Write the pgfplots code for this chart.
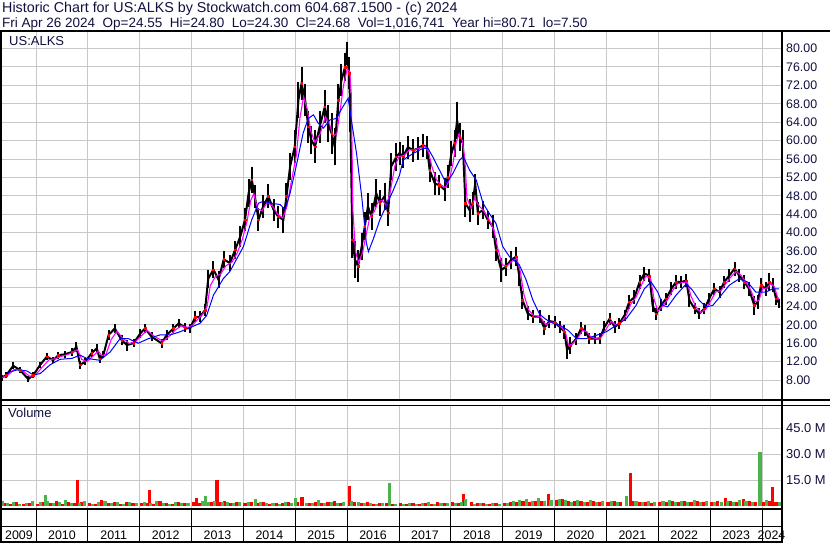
\documentclass[border=0pt]{standalone}
\usepackage{fontspec}
\setmainfont{Liberation Sans}
\usepackage{pgfplots}
\pgfplotsset{compat=1.18}
\usepackage{pgfplotstable}

\definecolor{txt}{RGB}{16,16,64}
\definecolor{gridc}{RGB}{200,200,200}
\definecolor{vred}{RGB}{255,0,0}
\definecolor{vgreen}{RGB}{76,178,76}
\definecolor{mag}{RGB}{255,0,255}
\definecolor{mablue}{RGB}{0,0,255}
\newcommand{\fs}{\fontsize{12.4}{14}\selectfont}
\newcommand{\fv}{\fontsize{12.9}{14}\selectfont}
\newcommand{\fh}{\fontsize{14.3}{16}\selectfont}
\newcommand{\fhh}{\fontsize{13.5}{16}\selectfont}
\newcommand{\fp}{\fontsize{13}{15}\selectfont}

\pgfplotstableread{
x c r
2009.34 8.5 0.6
2009.43 9.1 0.7
2009.56 11.1 0.8
2009.69 10.2 0.7
2009.85 8.2 0.6
2009.95 9.1 0.6
2010.08 11.3 0.7
2010.21 13.1 0.8
2010.33 12.3 0.7
2010.43 13.4 0.8
2010.56 13.6 0.8
2010.69 14.1 0.9
2010.78 15.2 1.0
2010.85 11.3 0.9
2010.95 12.0 0.8
2011.07 13.8 0.9
2011.17 14.9 1.0
2011.23 12.6 0.8
2011.30 13.5 0.8
2011.40 17.8 1.1
2011.52 19.2 1.0
2011.65 16.7 1.0
2011.75 15.6 1.2
2011.88 16.0 0.9
2012.01 18.1 1.0
2012.10 19.2 1.0
2012.23 17.4 1.0
2012.42 16.0 1.0
2012.52 17.8 1.0
2012.65 19.2 1.0
2012.75 20.3 1.0
2012.88 19.4 0.9
2012.97 19.2 0.9
2013.07 21.7 1.2
2013.16 21.7 1.2
2013.26 23.2 1.3
2013.32 30.0 2.0
2013.42 32.0 1.8
2013.52 29.8 1.8
2013.62 34.2 1.8
2013.74 33.4 1.8
2013.84 36.3 2.0
2013.94 39.2 2.2
2014.03 42.8 2.5
2014.10 48.6 3.0
2014.16 51.5 2.8
2014.22 47.9 2.5
2014.29 42.8 2.5
2014.38 45.7 2.5
2014.48 47.9 2.6
2014.58 45.0 2.4
2014.67 43.5 2.4
2014.77 42.8 2.8
2014.83 47.9 2.8
2014.90 54.4 3.0
2014.99 58.7 3.5
2015.06 68.8 4.0
2015.12 72.4 3.5
2015.19 68.8 3.5
2015.25 63.0 3.5
2015.31 60.1 3.0
2015.38 58.7 3.5
2015.47 63.0 3.5
2015.57 67.4 3.5
2015.63 63.8 4.0
2015.70 61.6 4.5
2015.76 58.7 4.0
2015.83 68.8 3.5
2015.89 73.1 3.5
2015.96 76.0 3.0
2015.99 78.9 2.5
2016.04 74.6 3.5
2016.06 65.9 4.0
2016.10 38.5 4.0
2016.15 34.2 4.0
2016.21 32.7 3.5
2016.28 37.0 3.0
2016.34 41.4 3.0
2016.40 45.7 3.0
2016.47 43.5 3.0
2016.56 48.6 3.0
2016.63 46.4 2.8
2016.72 47.9 3.0
2016.79 44.3 2.8
2016.85 54.4 3.0
2016.95 56.5 3.0
2017.01 57.3 2.5
2017.08 56.5 2.5
2017.17 58.6 2.5
2017.27 57.9 2.5
2017.37 58.3 2.5
2017.46 59.0 2.5
2017.54 58.6 2.5
2017.59 53.6 2.5
2017.69 50.7 2.5
2017.78 50.3 2.2
2017.88 49.3 2.5
2017.94 52.1 2.5
2018.01 57.2 2.8
2018.07 59.4 3.0
2018.12 64.4 4.0
2018.17 60.8 3.0
2018.23 59.4 3.0
2018.28 46.4 3.0
2018.36 44.9 2.5
2018.42 46.4 2.5
2018.47 50.7 2.0
2018.52 44.2 2.5
2018.62 44.9 2.0
2018.71 42.8 2.0
2018.81 41.3 2.5
2018.87 36.3 2.5
2018.97 31.9 2.5
2019.06 32.6 2.0
2019.16 34.1 2.0
2019.26 34.8 2.0
2019.32 30.5 2.0
2019.38 25.4 2.0
2019.48 22.5 1.5
2019.58 21.8 1.5
2019.71 21.8 1.5
2019.80 19.3 1.5
2019.90 20.8 1.4
2020.00 20.6 1.3
2020.10 19.5 1.3
2020.19 18.5 1.5
2020.24 14.5 2.0
2020.30 15.5 1.8
2020.42 17.0 1.3
2020.51 19.2 1.3
2020.58 18.8 1.2
2020.67 17.0 1.2
2020.77 17.0 1.2
2020.87 17.0 1.2
2020.96 19.5 1.3
2021.06 21.3 1.3
2021.16 19.5 1.3
2021.25 20.3 1.2
2021.35 22.1 1.2
2021.44 25.0 1.5
2021.54 26.0 1.5
2021.64 29.3 1.5
2021.73 31.1 1.5
2021.83 30.7 1.5
2021.89 24.2 1.5
2021.96 22.4 1.3
2022.05 24.2 1.3
2022.15 25.7 1.3
2022.25 27.8 1.4
2022.34 29.3 1.5
2022.44 29.3 1.4
2022.54 29.6 1.4
2022.60 25.3 1.4
2022.70 23.5 1.2
2022.79 22.4 1.2
2022.89 23.5 1.2
2022.98 25.7 1.3
2023.08 27.8 1.3
2023.18 27.1 1.3
2023.27 29.3 1.4
2023.37 30.7 1.4
2023.47 32.2 1.5
2023.56 30.7 1.5
2023.66 29.3 1.5
2023.75 27.8 1.5
2023.85 24.2 2.0
2023.92 25.0 1.5
2023.98 28.6 1.5
2024.08 27.8 1.5
2024.14 29.3 2.0
2024.21 28.6 1.5
2024.27 25.7 1.3
2024.33 24.7 1.0
}\price

\pgfplotstableread{
x m
2009.34 8.5
2009.45 9.0
2009.58 10.3
2009.72 10.2
2009.88 8.8
2010.00 9.2
2010.12 10.8
2010.25 12.4
2010.36 12.6
2010.48 13.1
2010.60 13.5
2010.72 14.0
2010.80 14.6
2010.88 12.5
2010.98 12.0
2011.10 13.2
2011.20 14.3
2011.27 13.3
2011.35 13.6
2011.45 16.8
2011.56 18.6
2011.68 17.0
2011.80 15.9
2011.92 16.4
2012.05 17.8
2012.14 18.8
2012.27 17.6
2012.45 16.4
2012.56 17.4
2012.68 18.8
2012.80 19.8
2012.92 19.4
2013.02 19.9
2013.12 21.2
2013.22 22.4
2013.30 24.0
2013.36 28.5
2013.46 30.5
2013.56 31.0
2013.66 32.8
2013.78 33.6
2013.88 35.6
2013.98 38.6
2014.07 42.5
2014.14 47.0
2014.20 48.5
2014.27 45.2
2014.36 44.8
2014.46 46.6
2014.56 45.8
2014.66 44.0
2014.76 43.2
2014.84 45.8
2014.93 51.5
2015.02 56.8
2015.09 65.0
2015.16 69.5
2015.23 66.8
2015.30 62.0
2015.38 59.6
2015.48 61.5
2015.58 65.2
2015.66 63.6
2015.73 61.0
2015.80 61.5
2015.87 67.0
2015.93 72.0
2016.00 75.5
2016.05 75.0
2016.08 70.0
2016.11 45.0
2016.16 36.0
2016.22 33.5
2016.30 35.8
2016.37 39.8
2016.44 43.5
2016.52 44.5
2016.60 46.8
2016.68 47.0
2016.76 45.8
2016.84 49.5
2016.92 54.5
2017.00 56.5
2017.10 56.8
2017.20 58.0
2017.30 58.0
2017.40 58.4
2017.50 58.8
2017.57 57.5
2017.63 54.5
2017.72 51.5
2017.82 50.3
2017.90 49.8
2017.97 51.5
2018.04 55.0
2018.10 59.5
2018.16 61.5
2018.22 60.0
2018.27 56.0
2018.31 47.5
2018.39 45.3
2018.46 47.5
2018.53 46.0
2018.63 44.8
2018.73 43.0
2018.83 40.5
2018.90 36.8
2018.99 33.0
2019.08 32.8
2019.18 33.8
2019.27 34.4
2019.34 31.5
2019.41 26.5
2019.50 23.2
2019.60 22.0
2019.72 21.8
2019.83 20.0
2019.93 20.6
2020.03 20.3
2020.13 19.5
2020.21 18.3
2020.27 15.5
2020.34 15.8
2020.45 17.2
2020.54 18.8
2020.62 18.5
2020.70 17.3
2020.80 17.0
2020.90 17.3
2020.99 19.0
2021.09 20.8
2021.19 19.9
2021.28 20.5
2021.38 22.0
2021.47 24.5
2021.57 26.0
2021.67 28.5
2021.76 30.6
2021.85 30.0
2021.92 25.5
2021.99 23.0
2022.08 24.0
2022.18 25.5
2022.28 27.5
2022.37 28.9
2022.47 29.2
2022.56 29.2
2022.63 26.2
2022.73 23.8
2022.82 22.7
2022.92 23.4
2023.01 25.2
2023.11 27.2
2023.21 27.4
2023.30 28.9
2023.40 30.4
2023.50 31.6
2023.59 30.8
2023.69 29.3
2023.78 27.6
2023.87 25.0
2023.94 25.3
2024.01 27.8
2024.10 28.0
2024.17 29.0
2024.24 28.2
2024.30 26.0
2024.33 25.5
}\magma

\pgfplotstableread{
x b
2009.45 9.6
2009.63 10.2
2009.82 10.0
2009.95 9.1
2010.08 9.4
2010.27 11.3
2010.46 12.5
2010.69 12.7
2010.85 13.4
2010.98 12.7
2011.23 12.3
2011.43 14.1
2011.62 17.0
2011.78 17.0
2011.97 16.0
2012.17 17.0
2012.39 17.8
2012.59 17.8
2012.78 18.5
2012.97 19.4
2013.16 20.3
2013.29 22.0
2013.42 26.4
2013.61 30.0
2013.74 31.6
2014.00 37.0
2014.16 42.8
2014.29 46.4
2014.38 46.8
2014.54 46.4
2014.71 46.1
2014.80 45.0
2014.90 48.6
2015.03 55.1
2015.15 61.6
2015.25 64.8
2015.35 65.6
2015.44 63.8
2015.54 62.7
2015.67 64.5
2015.79 64.8
2015.92 67.4
2016.02 69.2
2016.08 64.5
2016.18 57.3
2016.28 47.9
2016.37 37.8
2016.41 35.9
2016.50 38.5
2016.63 42.8
2016.76 46.0
2016.88 49.0
2017.01 52.5
2017.08 55.8
2017.27 57.2
2017.46 58.3
2017.56 58.3
2017.65 56.5
2017.78 53.6
2017.91 50.7
2018.04 52.9
2018.17 55.8
2018.24 56.5
2018.36 53.6
2018.49 51.4
2018.62 46.4
2018.74 44.2
2018.87 42.0
2019.00 37.0
2019.13 34.8
2019.32 33.0
2019.45 29.8
2019.58 25.4
2019.71 22.3
2019.83 21.2
2019.96 20.4
2020.10 19.9
2020.26 18.8
2020.42 17.0
2020.61 17.0
2020.80 17.7
2021.00 18.5
2021.19 19.9
2021.38 21.3
2021.57 24.2
2021.73 27.8
2021.86 29.3
2021.99 27.1
2022.09 24.2
2022.18 23.9
2022.34 26.4
2022.54 28.9
2022.66 27.5
2022.79 25.3
2022.92 23.9
2023.05 24.2
2023.21 26.4
2023.37 28.6
2023.56 30.0
2023.72 29.3
2023.88 27.1
2024.08 27.1
2024.20 27.8
2024.33 27.8
}\bluema

\pgfplotstableread{
x v
2009.39 1.9
2009.51 1.4
2009.63 2.3
2009.75 1.6
2009.87 2.1
2010.03 1.6
2010.15 2.4
2010.27 1.8
2010.39 2.9
2010.51 1.5
2010.63 2.2
2010.75 1.9
2010.80 15.0
2010.87 2.6
2011.03 2.0
2011.15 1.5
2011.27 3.4
2011.39 1.7
2011.51 2.3
2011.63 1.4
2011.75 2.6
2011.87 1.8
2012.03 1.7
2012.12 2.1
2012.18 9.6
2012.27 1.6
2012.39 2.8
2012.51 2.0
2012.63 1.5
2012.75 2.4
2012.87 1.9
2013.03 2.2
2013.09 5.0
2013.15 1.8
2013.39 2.7
2013.49 15.0
2013.55 2.4
2013.63 3.1
2013.75 1.9
2013.87 2.6
2014.03 2.0
2014.15 2.6
2014.27 1.7
2014.39 2.3
2014.51 1.5
2014.63 2.0
2014.75 1.8
2014.87 2.4
2015.05 2.3
2015.13 5.6
2015.27 1.9
2015.39 2.5
2015.51 1.7
2015.63 2.2
2015.75 2.8
2015.87 2.0
2016.04 11.9
2016.15 2.5
2016.27 1.9
2016.39 2.2
2016.51 1.6
2016.63 2.0
2016.75 1.7
2016.87 1.5
2017.03 1.8
2017.15 1.4
2017.27 2.0
2017.39 1.6
2017.51 1.9
2017.63 1.5
2017.75 2.2
2017.87 1.7
2018.03 2.4
2018.15 2.0
2018.25 7.3
2018.39 2.2
2018.51 1.7
2018.63 1.9
2018.75 1.5
2018.87 2.1
2019.03 1.9
2019.15 2.3
2019.27 2.6
2019.39 3.0
2019.51 2.4
2019.63 2.8
2019.75 3.2
2019.88 7.3
2020.03 3.6
2020.15 4.0
2020.27 3.3
2020.39 2.9
2020.51 3.1
2020.63 2.7
2020.75 3.0
2020.87 2.5
2021.03 2.4
2021.15 3.0
2021.27 2.6
2021.47 19.4
2021.53 2.9
2021.63 2.3
2021.75 2.7
2021.87 2.1
2022.03 2.6
2022.15 2.2
2022.27 3.1
2022.39 2.5
2022.51 2.8
2022.63 2.3
2022.75 2.9
2022.87 2.4
2023.03 2.5
2023.15 3.1
2023.29 5.0
2023.39 2.8
2023.51 2.4
2023.65 4.4
2023.75 3.0
2023.87 2.6
2024.03 2.7
2024.15 3.0
2024.21 11.0
2024.27 2.4
}\volred

\pgfplotstableread{
x v
2009.36 3.3
2009.45 1.7
2009.57 2.6
2009.69 1.5
2009.81 2.0
2009.93 2.8
2010.09 2.2
2010.18 6.7
2010.23 3.1
2010.33 1.8
2010.45 2.5
2010.57 3.6
2010.69 2.0
2010.84 1.7
2010.93 2.9
2011.09 1.6
2011.21 2.4
2011.33 3.0
2011.45 1.9
2011.57 2.7
2011.69 1.5
2011.81 2.2
2011.93 1.7
2012.09 2.3
2012.21 1.8
2012.33 3.2
2012.45 2.0
2012.57 1.6
2012.69 2.5
2012.81 1.7
2012.93 2.1
2013.21 2.9
2013.27 6.2
2013.33 2.4
2013.45 3.0
2013.59 2.2
2013.69 2.7
2013.81 1.8
2013.93 2.3
2014.09 2.5
2014.24 4.4
2014.33 2.2
2014.45 1.7
2014.57 2.0
2014.69 1.6
2014.81 2.3
2014.93 1.8
2015.00 5.0
2015.21 2.1
2015.33 1.8
2015.45 3.8
2015.57 2.0
2015.69 2.4
2015.81 1.9
2015.93 2.6
2016.09 3.2
2016.21 2.4
2016.33 1.8
2016.45 2.0
2016.57 1.5
2016.69 1.9
2016.81 13.7
2016.93 1.6
2017.09 1.5
2017.21 1.9
2017.33 1.4
2017.45 1.7
2017.57 2.5
2017.69 1.6
2017.81 1.8
2017.93 2.1
2018.09 1.9
2018.21 2.6
2018.29 4.0
2018.45 1.6
2018.57 2.0
2018.69 1.4
2018.81 1.8
2018.93 1.6
2019.09 2.1
2019.21 2.8
2019.33 3.5
2019.45 4.2
2019.57 3.1
2019.69 4.5
2019.81 2.9
2019.93 3.4
2020.09 4.4
2020.21 3.8
2020.33 2.6
2020.45 3.5
2020.57 2.4
2020.69 3.9
2020.81 2.6
2020.93 2.9
2021.09 2.8
2021.21 2.2
2021.38 6.2
2021.57 3.1
2021.69 2.5
2021.81 2.9
2021.93 2.4
2022.09 2.9
2022.21 3.4
2022.33 2.5
2022.45 3.0
2022.57 2.2
2022.69 3.6
2022.81 2.6
2022.93 2.8
2023.09 2.7
2023.21 2.3
2023.33 3.2
2023.45 2.6
2023.57 3.4
2023.69 2.8
2023.81 2.5
2023.96 31.5
2024.09 3.4
2024.33 2.6
}\volgreen

\begin{document}
\begin{tikzpicture}[x=1pt,y=1pt]
\useasboundingbox (0,0) rectangle (830,543);
\fill[white] (0,0) rectangle (830,543);

% price panel
\begin{axis}[at={(2pt,143pt)}, anchor=south west, scale only axis,
  width=779pt, height=369pt,
  xmin=2009.344, xmax=2024.366, ymin=3.67, ymax=83.8,
  axis line style={draw=none},
  xtick={2010,2011,2012,2013,2014,2015,2016,2017,2018,2019,2020,2021,2022,2023,2024},
  xticklabels={},
  ytick={8,12,16,20,24,28,32,36,40,44,48,52,56,60,64,68,72,76,80},
  yticklabels={8.00,12.00,16.00,20.00,24.00,28.00,32.00,36.00,40.00,44.00,48.00,52.00,56.00,60.00,64.00,68.00,72.00,76.00,80.00},
  yticklabel pos=right,
  major tick length=0pt,
  grid=major, major grid style={gridc, line width=1pt},
  yticklabel style={font=\fs, text=txt, anchor=west, inner xsep=0pt, xshift=5pt},
  clip=true]
\addplot[black, line width=2pt, error bars/.cd, y dir=both, y explicit,
  error bar style={black, line width=2pt}, error mark=none]
  table[x=x, y=c, y error=r]{\price};
\addplot[only marks, mark=square*, mark size=0.8pt, color=red, mark repeat=2]
  table[x=x, y=c]{\price};
\addplot[mag, line width=1.1pt] table[x=x, y=m]{\magma};
\addplot[mablue, line width=1pt] table[x=x, y=b]{\bluema};
\end{axis}

% volume panel
\begin{axis}[at={(2pt,34pt)}, anchor=south west, scale only axis,
  width=779pt, height=104pt,
  xmin=2009.344, xmax=2024.366, ymin=-1.56, ymax=58.4,
  axis line style={draw=none},
  xtick={2010,2011,2012,2013,2014,2015,2016,2017,2018,2019,2020,2021,2022,2023,2024},
  xticklabels={},
  ytick={15,30,45}, yticklabels={15.0 M,30.0 M,45.0 M},
  yticklabel pos=right,
  major tick length=0pt,
  grid=major, major grid style={gridc, line width=1pt},
  yticklabel style={font=\fv, text=txt, anchor=west, inner xsep=0pt, xshift=5pt},
  clip=true]
\addplot[ycomb, vred, line width=3.1pt] table[x=x, y=v]{\volred};
\addplot[ycomb, vgreen, line width=3.1pt] table[x=x, y=v]{\volgreen};
\end{axis}

% frames
\fill[black] (0,0) rectangle (2,512.5);
\draw[line width=2pt] (781.5,0) -- (781.5,512.5);
\draw[line width=1.5pt] (0,512.2) -- (830,512.2);
\draw[line width=1.2pt] (0,143) -- (830,143);
\draw[line width=1.2pt] (0,137.5) -- (830,137.5);
\draw[line width=1.5pt] (0,34) -- (782,34);
\draw[line width=1pt] (0,16) -- (782,16);
\draw[line width=1.5pt] (0,0.75) -- (782,0.75);
\foreach \k in {0,...,14} \draw[line width=1pt] ({36+\k*51.86},0) -- ({36+\k*51.86},34);

% year labels
\node[font=\fs, text=black, inner sep=0pt] at (19,8) {2009};
\foreach \yr [count=\k from 0] in {2010,...,2023}
  \node[font=\fs, text=black, inner sep=0pt] at ({36+\k*51.86+25.93},8) {\yr};
\node[font=\fs, text=black, inner sep=0pt] at (771.5,8) {2024};

% panel titles
\node[font=\fp, text=txt, anchor=base west, inner sep=0pt] at (9,497) {US:ALKS};
\node[font=\fp, text=txt, anchor=base west, inner sep=0pt] at (8,125) {Volume};

% header
\node[font=\fh, text=txt, anchor=base west, inner sep=0pt] at (2,530.3) {Historic Chart for US:ALKS by Stockwatch.com 604.687.1500 - (c) 2024};
\node[font=\fhh, text=txt, anchor=base west, inner sep=0pt] at (2,515.7) {Fri Apr 26 2024\ \ Op=24.55\ \ Hi=24.80\ \ Lo=24.30\ \ Cl=24.68\ \ Vol=1,016,741\ \ Year hi=80.71\ \ lo=7.50};
\end{tikzpicture}
\end{document}
